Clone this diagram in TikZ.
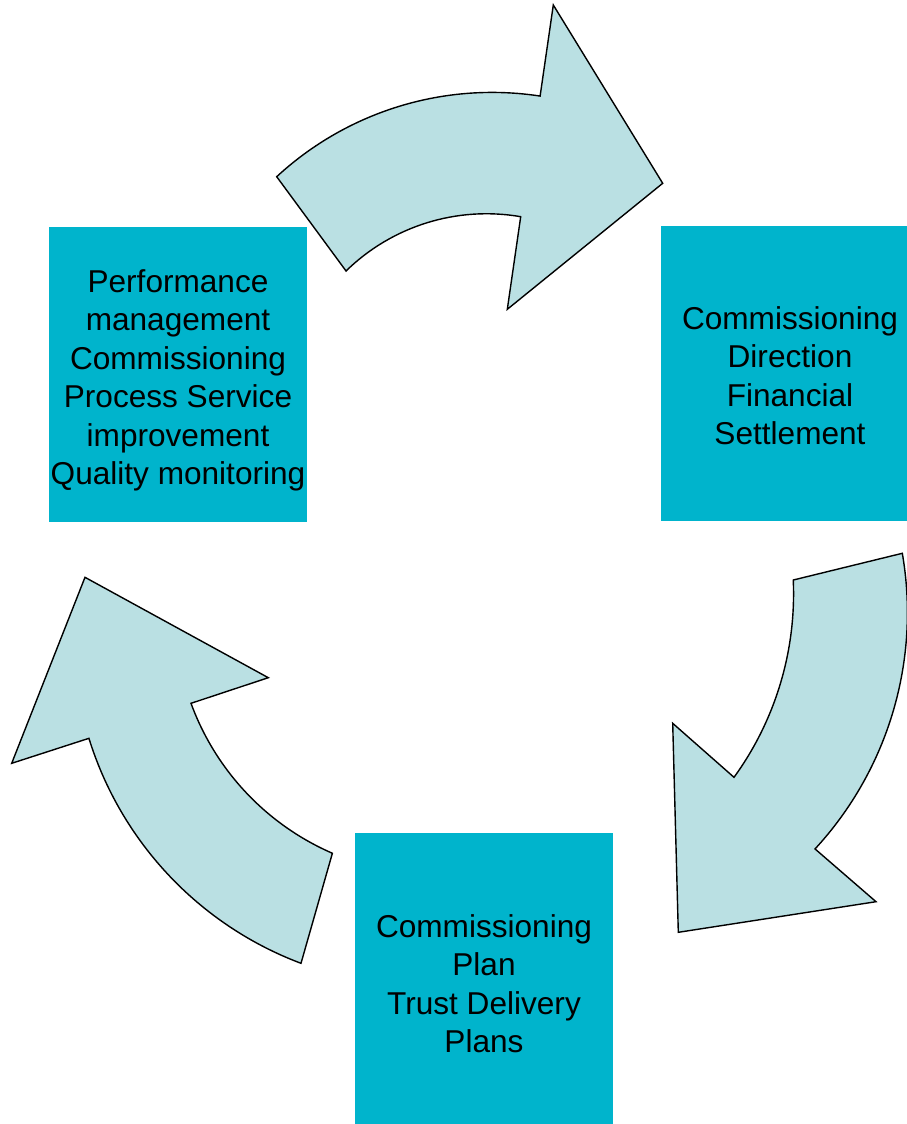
\documentclass[tikz,border=0pt]{standalone}
\usepackage{fontspec}
\setmainfont{Liberation Sans}
\definecolor{boxc}{RGB}{0,180,204}
\definecolor{arrc}{RGB}{186,224,227}
\begin{document}
\begin{tikzpicture}[x=1pt,y=1pt,
  box/.style={fill=boxc, draw=none, minimum width=258pt, minimum height=295pt, inner sep=0pt},
  boxtext/.style={inner sep=0pt, align=center, font=\fontsize{31.6}{38.5}\selectfont},
  cyc/.style={fill=arrc, draw=black, line width=1.4pt, line join=miter}]
\useasboundingbox (0,0) rectangle (907,-1124);

\node[box] (perf) at (178,-374.5) {};
\node[box] (dir) at (790,-373.5) {};
\node[box] (plan) at (484,-980.5) {};
\node[boxtext] (perft) at ([yshift=-6pt]perf.center) {Performance\\management\\Commissioning\\Process Service\\improvement\\Quality monitoring};
\node[boxtext] (dirt) at ([yshift=-2pt]dir.center) {Commissioning\\Direction\\Financial\\Settlement};
\node[boxtext] (plant) at ([yshift=-3pt]plan.center) {Commissioning\\Plan\\Trust Delivery\\Plans};

% top arrow
\draw[cyc] (276.7,-176.7) arc[start angle=132.74, end angle=81.30, radius=317.4pt]
  -- (553.3,-5) -- (662.7,-183.3) -- (507.3,-309.3) -- (520.7,-216.7)
  arc[start angle=80.17, end angle=134.36, radius=200.8pt] -- cycle;

% right arrow
\draw[cyc] (793.3,-580) -- (902.3,-553.3)
  arc[start angle=9.82, end angle=-42.71, radius=348.3pt]
  -- (876,-901.7) -- (678.3,-932.3) -- (672.7,-723.3) -- (734,-777.3)
  arc[start angle=-35.97, end angle=2.53, radius=312.4pt] -- cycle;

% left arrow
\draw[cyc] (85,-577.3) -- (268.3,-677.7) -- (191,-703.3)
  arc[start angle=200.08, end angle=246.55, radius=261.2pt]
  -- (301,-963.3)
  arc[start angle=249.39, end angle=197.22, radius=351.6pt]
  -- (11.7,-763.3) -- cycle;
\end{tikzpicture}
\end{document}
